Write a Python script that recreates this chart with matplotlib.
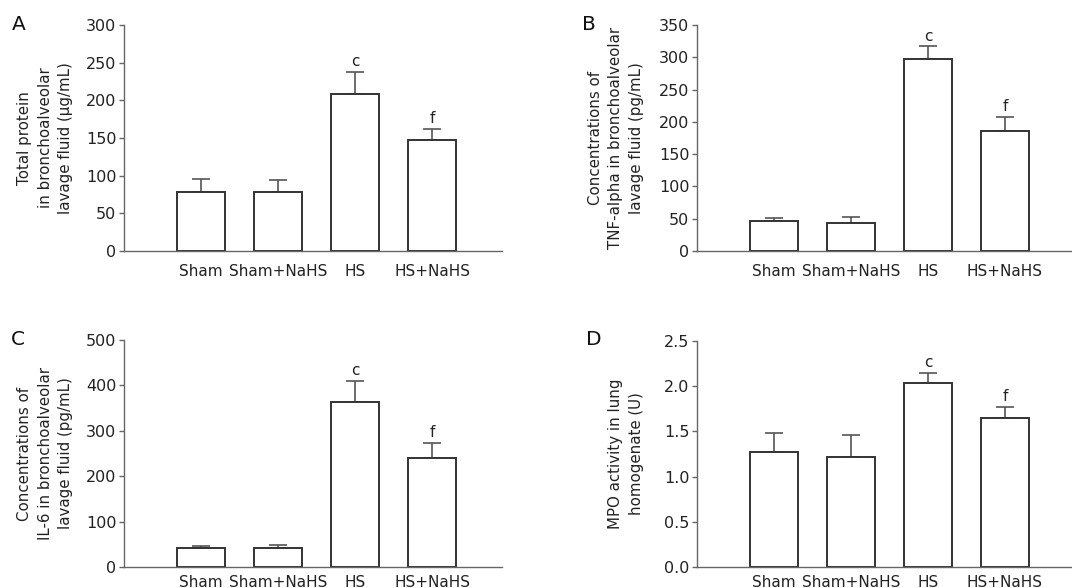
import matplotlib
matplotlib.use("Agg")
import matplotlib.pyplot as plt

plt.rcParams['font.family'] = ['DejaVu Sans']

groups = ["Sham", "Sham+NaHS", "HS", "HS+NaHS"]

protein_mean = [78, 78, 208, 148]
protein_err = [17, 16, 30, 14]

tnf_mean = [46, 44, 297, 186]
tnf_err = [5, 8, 20, 22]

il6_mean = [41, 42, 364, 240]
il6_err = [6, 7, 46, 34]

mpo_mean = [1.27, 1.22, 2.03, 1.65]
mpo_err = [0.21, 0.24, 0.12, 0.12]

sig_letters = ["", "", "c", "f"]

W, H = 1072, 588
fig = plt.figure(figsize=(W / 100, H / 100), dpi=100)

EDGE = "#333333"
AX = "#666666"
UNIT = 77.0  # pixels per category


def panel(rect_px, means, errs, ylim, yticks, yticklabels, ylabel, letter, letter_xy, label_x, xpad):
    l, r, t, b = rect_px
    ax = fig.add_axes([l / W, 1 - b / H, (r - l) / W, (b - t) / H])
    xs = list(range(1, len(groups) + 1))
    ax.bar(xs, means, width=0.62, color="white", edgecolor=EDGE, linewidth=1.4, zorder=2)
    ax.errorbar(xs, means, yerr=[[0] * len(errs), errs], fmt="none", ecolor="#555555",
                elinewidth=1.2, capsize=6.5, capthick=1.2, zorder=1)
    for x, m, e, s in zip(xs, means, errs, sig_letters):
        if s:
            ax.annotate(s, (x, m + e), xytext=(0, 2), textcoords="offset points",
                        ha="center", va="bottom", fontsize=11, color="#222222")
    ax.set_xlim(0, (r - l) / UNIT)
    ax.set_ylim(*ylim)
    ax.set_yticks(yticks)
    ax.set_yticklabels(yticklabels)
    ax.set_xticks(xs)
    ax.set_xticklabels(groups)
    for s in ("top", "right"):
        ax.spines[s].set_visible(False)
    for s in ("left", "bottom"):
        ax.spines[s].set_color(AX)
        ax.spines[s].set_linewidth(1.0)
    ax.tick_params(axis="y", direction="out", length=3.5, width=1.0, color=AX,
                   labelsize=11.5, labelcolor="#222222", pad=2)
    ax.tick_params(axis="x", length=0, pad=xpad, labelsize=11, labelcolor="#222222")
    ax.set_ylabel(ylabel, fontsize=10.8, linespacing=1.45, color="#222222")
    ax.yaxis.set_label_coords(label_x, 0.5)
    fig.text(letter_xy[0] / W, 1 - letter_xy[1] / H, letter, fontsize=14.5,
             ha="left", va="top", color="#111111")
    return ax


panel((124, 502, 25, 251), protein_mean, protein_err, (0, 300),
      [0, 50, 100, 150, 200, 250, 300], ["0", "50", "100", "150", "200", "250", "300"],
      "Total protein\nin bronchoalveolar\nlavage fluid (\u00b5g/mL)", "A", (12, 15), -0.135, 9)

panel((697, 1071, 25, 251), tnf_mean, tnf_err, (0, 350),
      [0, 50, 100, 150, 200, 250, 300, 350],
      ["0", "50", "100", "150", "200", "250", "300", "350"],
      "Concentrations of\nTNF-alpha in bronchoalveolar\nlavage fluid (pg/mL)", "B", (582, 15), -0.142, 9)

panel((124, 502, 340, 567), il6_mean, il6_err, (0, 500),
      [0, 100, 200, 300, 400, 500], ["0", "100", "200", "300", "400", "500"],
      "Concentrations of\nIL-6 in bronchoalveolar\nlavage fluid (pg/mL)", "C", (11, 330), -0.135, 6)

panel((697, 1071, 341, 567), mpo_mean, mpo_err, (0, 2.5),
      [0, 0.5, 1.0, 1.5, 2.0, 2.5], ["0.0", "0.5", "1.0", "1.5", "2.0", "2.5"],
      "MPO activity in lung\nhomogenate (U)", "D", (586, 330), -0.142, 6)

fig.savefig("out.png", dpi=100, facecolor="white")
